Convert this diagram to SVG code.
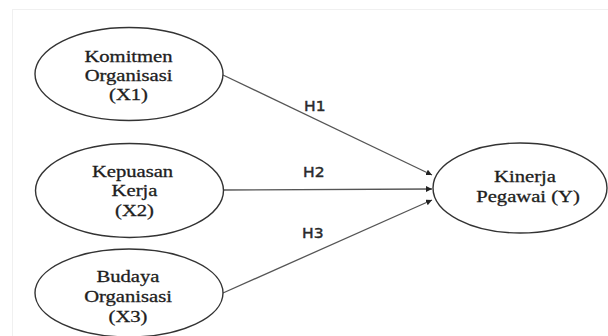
<svg xmlns="http://www.w3.org/2000/svg" width="608" height="336" viewBox="0 0 608 336">
  <style>
    .node ellipse { fill: #ffffff; stroke: #333333; stroke-width: 1.4; }
    .node text { font-family: "Liberation Serif", "Times New Roman", serif; font-size: 16.5px; fill: #1e1e1e; stroke: #1e1e1e; stroke-width: 0.3; text-anchor: middle; }
    .conn line { stroke: #555555; stroke-width: 1.3; fill: none; }
    .lbl { font-family: "DejaVu Sans", "Liberation Sans", sans-serif; font-size: 13.5px; fill: #2a2a2a; stroke: #2a2a2a; stroke-width: 0.4; }
  </style>
  <defs>
    <marker id="arrow" markerUnits="userSpaceOnUse" markerWidth="8" markerHeight="8" refX="6" refY="3" orient="auto">
      <path d="M0,0 L6,3 L0,6 Z" fill="#222222"/>
    </marker>
  </defs>
  <rect x="0" y="0" width="608" height="336" fill="#ffffff"/>
  <rect x="12.5" y="9.5" width="600" height="340" fill="none" stroke="#f0f0f0" stroke-width="1"/>

  <g id="connectors" class="conn">
    <line x1="223" y1="75" x2="432" y2="175" marker-end="url(#arrow)"/>
    <line x1="223" y1="190" x2="432" y2="189" marker-end="url(#arrow)"/>
    <line x1="223" y1="293" x2="432" y2="200" marker-end="url(#arrow)"/>
    <text class="lbl" transform="translate(304,111) scale(1.15,1)">H1</text>
    <text class="lbl" transform="translate(303,177) scale(1.15,1)">H2</text>
    <text class="lbl" transform="translate(302,238) scale(1.15,1)">H3</text>
  </g>

  <g id="x1" class="node">
    <ellipse cx="129" cy="74" rx="94" ry="46.5"/>
    <text transform="translate(128.5,61.5) scale(1.25,1)">Komitmen</text>
    <text transform="translate(128.5,81) scale(1.25,1)">Organisasi</text>
    <text transform="translate(128.5,100) scale(1.25,1)">(X1)</text>
  </g>

  <g id="x2" class="node">
    <ellipse cx="129.5" cy="190.5" rx="94" ry="47"/>
    <text transform="translate(132.5,177) scale(1.25,1)">Kepuasan</text>
    <text transform="translate(134.5,196) scale(1.25,1)">Kerja</text>
    <text transform="translate(134.5,216) scale(1.25,1)">(X2)</text>
  </g>

  <g id="x3" class="node">
    <ellipse cx="129" cy="293" rx="94" ry="44"/>
    <text transform="translate(128,282) scale(1.25,1)">Budaya</text>
    <text transform="translate(128,302) scale(1.25,1)">Organisasi</text>
    <text transform="translate(128,322) scale(1.25,1)">(X3)</text>
  </g>

  <g id="y" class="node">
    <ellipse cx="520" cy="188" rx="87" ry="45"/>
    <text transform="translate(525,182) scale(1.25,1)">Kinerja</text>
    <text transform="translate(528,202) scale(1.25,1)">Pegawai (Y)</text>
  </g>
</svg>
